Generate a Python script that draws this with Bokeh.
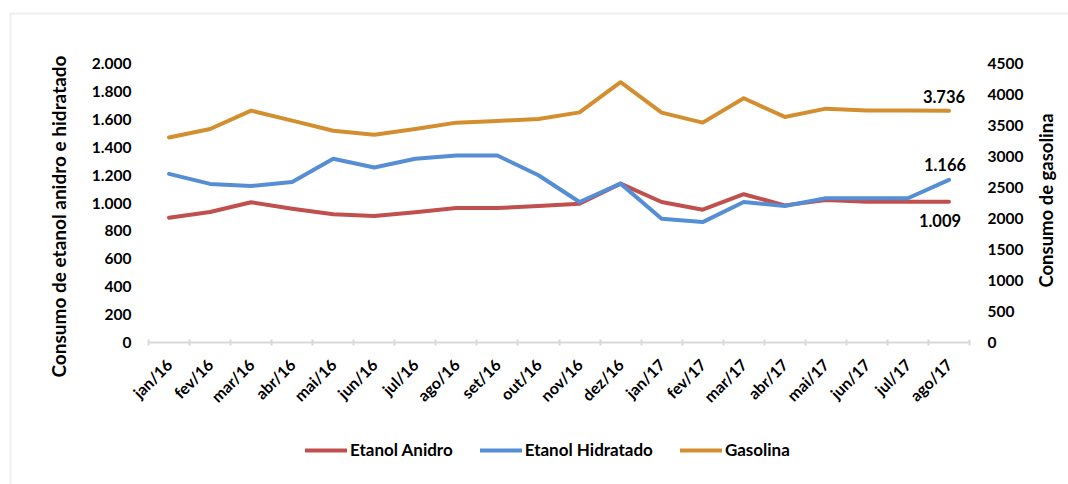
from math import pi

from bokeh.core.properties import value
from bokeh.embed import file_html
from bokeh.models import (BoxAnnotation, FixedTicker, Label, Legend, LegendItem,
                          LinearAxis, Range1d)
from bokeh.plotting import figure
from bokeh.resources import INLINE

# Monthly consumption (jan/16 .. ago/17)
meses = ["jan/16", "fev/16", "mar/16", "abr/16", "mai/16", "jun/16", "jul/16",
         "ago/16", "set/16", "out/16", "nov/16", "dez/16", "jan/17", "fev/17",
         "mar/17", "abr/17", "mai/17", "jun/17", "jul/17", "ago/17"]
etanol_anidro = [894, 935, 1005, 959, 919, 906, 933, 964, 964, 978, 995, 1139,
                 1007, 952, 1063, 983, 1022, 1009, 1009, 1009]
etanol_hidratado = [1209, 1137, 1122, 1151, 1317, 1254, 1317, 1340, 1340, 1199,
                    1007, 1139, 887, 863, 1007, 978, 1034, 1034, 1034, 1166]
gasolina = [3307, 3444, 3740, 3578, 3416, 3351, 3444, 3546, 3573, 3606, 3712,
            4198, 3708, 3546, 3939, 3638, 3772, 3740, 3740, 3736]

ticks_etanol = list(range(0, 2001, 200))
ticks_gasolina = list(range(0, 4501, 500))
max_etanol, max_gasolina = 2000, 4500

COR_ANIDRO = "#C0504D"
COR_HIDRATADO = "#558ED5"
COR_GASOLINA = "#D38F2F"
FONTE = "Lato"
TEXTO = "#000000"

# Page geometry (pixels): the plotting area sits inside a larger canvas, and the
# axes are pinned to its edges so that titles, legend and frame share one space.
W, H = 1068, 484
AREA_L, AREA_R, AREA_T, AREA_B = 148, 969, 63, 342


def br(v):
    """Number with a dot as thousands separator."""
    return f"{v:,}".replace(",", ".")


n = len(meses)
idx = list(range(n))
px_cat = (AREA_R - AREA_L) / n
px_y = AREA_B - AREA_T
x0, x1 = -0.5, n - 0.5
x_range = Range1d(x0 - AREA_L / px_cat, x1 + (W - AREA_R) / px_cat)
y_range = Range1d(-(H - AREA_B) * max_etanol / px_y, max_etanol + AREA_T * max_etanol / px_y)
g_range = Range1d(-(H - AREA_B) * max_gasolina / px_y, max_gasolina + AREA_T * max_gasolina / px_y)

p = figure(width=W, height=H, output_backend="svg", toolbar_location=None,
           x_range=x_range, y_range=y_range, min_border=0)
p.extra_y_ranges = {"gas": g_range}
p.xgrid.visible = False
p.ygrid.visible = False
p.outline_line_color = None
p.background_fill_color = "white"
p.border_fill_color = "white"

# Category axis with boundary ticks, pinned at zero
xa = p.xaxis[0]
xa.fixed_location = 0
xa.bounds = (x0, x1)
xa.ticker = FixedTicker(ticks=idx, minor_ticks=[i - 0.5 for i in range(n + 1)])
xa.major_label_overrides = {i: m for i, m in enumerate(meses)}
xa.major_label_orientation = pi / 4
xa.major_tick_line_color = None
xa.major_tick_out = 0
xa.major_tick_in = 0
xa.minor_tick_line_color = "#D9D9D9"
xa.minor_tick_line_width = 2
xa.minor_tick_in = 3
xa.minor_tick_out = 3
xa.axis_line_color = "#D9D9D9"
xa.axis_line_width = 2
xa.major_label_standoff = 16
xa.major_label_text_font = FONTE
xa.major_label_text_font_style = "bold"
xa.major_label_text_font_size = "16px"
xa.major_label_text_color = TEXTO

# Left axis: ethanol
ya = p.yaxis[0]
ya.fixed_location = x0
ya.bounds = (0, max_etanol)
ya.ticker = FixedTicker(ticks=ticks_etanol)
ya.major_label_overrides = {t: br(t) for t in ticks_etanol}
ya.axis_line_color = None
ya.major_tick_line_color = None
ya.minor_tick_line_color = None
ya.major_tick_out = 0
ya.major_tick_in = 0
ya.major_label_standoff = 17
ya.major_label_text_font = FONTE
ya.major_label_text_font_style = "bold"
ya.major_label_text_font_size = "15.5px"
ya.major_label_text_color = TEXTO

# Right axis: gasoline
yb = LinearAxis(y_range_name="gas", ticker=FixedTicker(ticks=ticks_gasolina),
                fixed_location=x1, bounds=(0, max_gasolina))
yb.major_label_overrides = {t: str(t) for t in ticks_gasolina}
yb.axis_line_color = None
yb.major_tick_line_color = None
yb.minor_tick_line_color = None
yb.major_tick_out = 0
yb.major_tick_in = 0
yb.major_label_standoff = 18
yb.major_label_text_font = FONTE
yb.major_label_text_font_style = "bold"
yb.major_label_text_font_size = "15.5px"
yb.major_label_text_color = TEXTO
p.add_layout(yb, "right")

# Axis titles (both read bottom to top)
tit = dict(x_units="screen", y_units="screen", angle=pi / 2, text_align="center",
           text_baseline="middle", text_font=FONTE, text_font_style="bold",
           text_color=TEXTO)
p.add_layout(Label(x=58, y=H - 216, text="Consumo de etanol anidro e hidratado",
                   text_font_size="19px", **tit))
p.add_layout(Label(x=1045, y=H - 200, text="Consumo de gasolina",
                   text_font_size="18.5px", **tit))

# Series
kw = dict(line_width=4, line_join="round", line_cap="round")
r_an = p.line(idx, etanol_anidro, line_color=COR_ANIDRO, **kw)
r_hi = p.line(idx, etanol_hidratado, line_color=COR_HIDRATADO, **kw)
r_ga = p.line(idx, gasolina, line_color=COR_GASOLINA, y_range_name="gas", **kw)

# Value labels on the last month
lab = dict(text_font=value(FONTE), text_font_style="bold", text_font_size="16.5px",
           text_color=TEXTO, text_align="center", text_baseline="middle")
last = idx[-1]
p.text([last], [gasolina[-1]], text=[br(gasolina[-1])], y_range_name="gas",
       x_offset=-5, y_offset=-14, **lab)
p.text([last], [etanol_hidratado[-1]], text=[br(etanol_hidratado[-1])],
       x_offset=-4, y_offset=-15, **lab)
p.text([last], [etanol_anidro[-1]], text=[br(etanol_anidro[-1])],
       x_offset=-9, y_offset=19, **lab)

legend = Legend(items=[LegendItem(label="Etanol Anidro", renderers=[r_an]),
                       LegendItem(label="Etanol Hidratado", renderers=[r_hi]),
                       LegendItem(label="Gasolina", renderers=[r_ga])],
                orientation="horizontal", location=(305, 24),
                glyph_width=42, glyph_height=20, label_height=20,
                label_standoff=3, spacing=27, padding=0, margin=0,
                border_line_color=None, background_fill_alpha=0,
                label_text_font=FONTE, label_text_font_style="bold",
                label_text_font_size="17px", label_text_color=TEXTO)
p.add_layout(legend, "center")

# Chart-area frame: grey edges on the left and top
p.add_layout(BoxAnnotation(left=10, left_units="screen",
                           right=W + 50, right_units="screen",
                           top=max_etanol + (AREA_T - 13) * max_etanol / px_y,
                           bottom=y_range.start * 2,
                           fill_alpha=0, line_color="#C6C6C6", line_width=2))

open("out.html", "w").write(file_html(p, INLINE))
